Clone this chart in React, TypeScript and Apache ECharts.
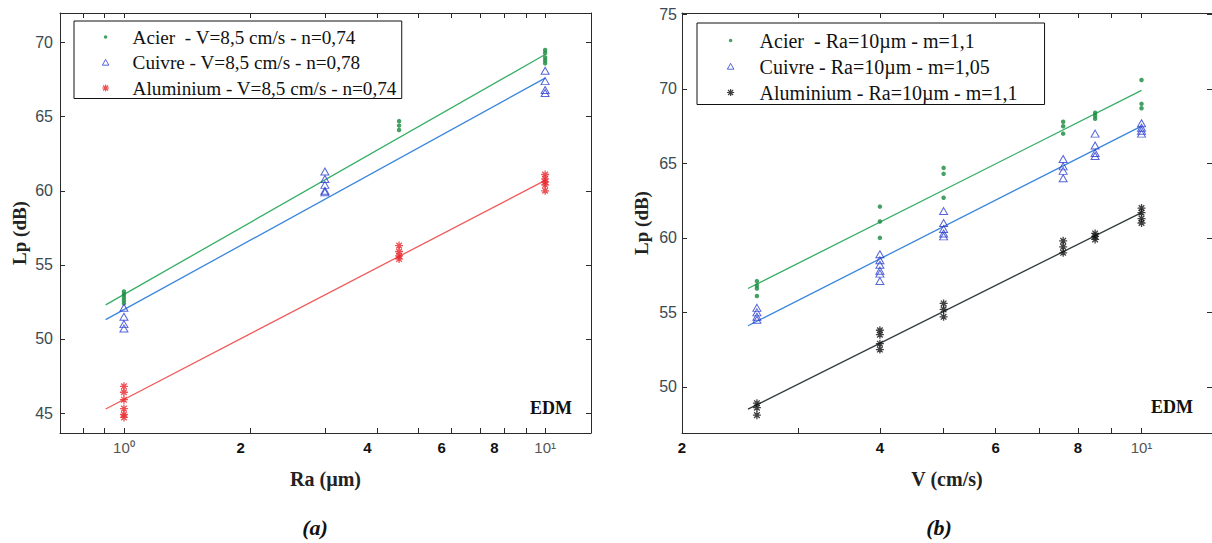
import React, { useEffect, useRef } from "react";
import * as echarts from "echarts";

// ---------- (a) Lp vs Ra, V = 8,5 cm/s ----------
const raTickValues = [0.8, 0.9, 1, 2, 3, 4, 5, 6, 7, 8, 9, 10];
const raLabelValues = [1, 2, 4, 6, 8, 10];
const lpTickValuesA = [45, 50, 55, 60, 65, 70];

const acierA: [number, number][] = [
  [1, 53.2], [1, 53.0], [1, 52.8], [1, 52.6], [1, 52.4],
  [4.5, 64.7], [4.5, 64.4], [4.5, 64.1],
  [10, 69.5], [10, 69.3], [10, 69.0], [10, 68.8], [10, 68.6],
];
const cuivreA: [number, number][] = [
  [1, 52.1], [1, 51.5], [1, 51.0], [1, 50.7],
  [3, 61.3], [3, 60.8], [3, 60.4], [3, 60.0], [3, 59.9],
  [10, 68.1], [10, 67.4], [10, 66.8], [10, 66.6],
];
const aluminiumA: [number, number][] = [
  [1, 46.8], [1, 46.4], [1, 45.9], [1, 45.3], [1, 44.9], [1, 44.7],
  [4.5, 56.3], [4.5, 55.9], [4.5, 55.6], [4.5, 55.4],
  [10, 61.1], [10, 60.8], [10, 60.6], [10, 60.4], [10, 60.0],
];
const acierFitA: [number, number][] = [[0.905, 52.3], [10, 69.2]];
const cuivreFitA: [number, number][] = [[0.905, 51.3], [10, 67.6]];
const aluminiumFitA: [number, number][] = [[0.905, 45.27], [10, 60.7]];
const legendNamesA = [
  "Acier  - V=8,5 cm/s - n=0,74",
  "Cuivre - V=8,5 cm/s - n=0,78",
  "Aluminium - V=8,5 cm/s - n=0,74",
];

// ---------- (b) Lp vs V, Ra = 10 µm ----------
const vTickValues = [2, 3, 4, 5, 6, 7, 8, 9, 10];
const vLabelValues = [2, 4, 6, 8, 10];
const lpTickValuesB = [50, 55, 60, 65, 70, 75];

const acierB: [number, number][] = [
  [2.6, 57.1], [2.6, 56.8], [2.6, 56.6], [2.6, 56.1],
  [4, 62.1], [4, 61.1], [4, 60.0],
  [5, 64.7], [5, 64.3], [5, 62.7],
  [7.6, 67.8], [7.6, 67.5], [7.6, 67.0],
  [8.5, 68.4], [8.5, 68.2], [8.5, 68.0],
  [10, 70.6], [10, 69.0], [10, 68.7],
];
const cuivreB: [number, number][] = [
  [2.6, 55.3], [2.6, 55.0], [2.6, 54.7], [2.6, 54.5],
  [4, 58.9], [4, 58.5], [4, 58.2], [4, 57.8], [4, 57.6], [4, 57.1],
  [5, 61.8], [5, 61.0], [5, 60.6], [5, 60.3], [5, 60.1],
  [7.6, 65.3], [7.6, 64.8], [7.6, 64.5], [7.6, 64.0],
  [8.5, 67.0], [8.5, 66.2], [8.5, 65.7], [8.5, 65.5],
  [10, 67.7], [10, 67.4], [10, 67.2], [10, 67.0],
];
const aluminiumB: [number, number][] = [
  [2.6, 48.9], [2.6, 48.6], [2.6, 48.1],
  [4, 53.8], [4, 53.5], [4, 52.9], [4, 52.5],
  [5, 55.6], [5, 55.2], [5, 54.7],
  [7.6, 59.8], [7.6, 59.4], [7.6, 59.0],
  [8.5, 60.3], [8.5, 60.1], [8.5, 59.9],
  [10, 62.0], [10, 61.7], [10, 61.3], [10, 61.0],
];
const acierFitB: [number, number][] = [[2.52, 56.6], [10, 69.9]];
const cuivreFitB: [number, number][] = [[2.52, 54.1], [10, 67.5]];
const aluminiumFitB: [number, number][] = [[2.52, 48.5], [10, 61.7]];
const legendNamesB = [
  "Acier  - Ra=10µm - m=1,1",
  "Cuivre - Ra=10µm - m=1,05",
  "Aluminium - Ra=10µm - m=1,1",
];

// ---------- styles ----------
const GREEN = "#178a3c";
const GREEN_LINE = "#35ad64";
const BLUE = "#2c3fd0";
const BLUE_LINE = "#3a86dc";
const RED = "#e8262b";
const RED_LINE = "#f05a5a";
const BLACK = "#111111";
const BLACK_LINE = "#2e3b3b";
const AXIS = "#2b2b2b";
const SERIF = "'Liberation Serif', 'Times New Roman', serif";
const SANS = "'Liberation Sans', Arial, sans-serif";

const STAR = "path://M0,-4 L0,4 M-4,0 L4,0 M-2.8,-2.8 L2.8,2.8 M-2.8,2.8 L2.8,-2.8";
const DOT_LEGEND = "path://M0,0 M10,10 M3,5 A2,2 0 1 1 7,5 A2,2 0 1 1 3,5 Z";
const TRI_LEGEND = "path://M0,0 M10,10 M5,1.5 L8.6,8 L1.4,8 Z";
const STAR_LEGEND = "path://M0,0 M10,10 M5,1 L5,9 M1,5 L9,5 M2.2,2.2 L7.8,7.8 M2.2,7.8 L7.8,2.2";

const near = (a: number, b: number) => Math.abs(a - b) < 1e-6;

function xAxisCfg(
  gridIndex: number,
  position: "top" | "bottom",
  min: number,
  max: number,
  ticks: number[],
  labels: number[] | null,
  boldPad: number,
  name?: string
) {
  return {
    type: "log",
    logBase: 10,
    gridIndex,
    position,
    min,
    max,
    name: name || "",
    nameLocation: "middle",
    nameGap: 36,
    nameTextStyle: { fontFamily: SERIF, fontWeight: "bold", fontSize: 20, color: "#222" },
    axisLine: { show: true, lineStyle: { color: AXIS, width: 1 } },
    axisTick: { show: true, inside: true, length: 5, customValues: ticks, lineStyle: { color: AXIS } },
    axisLabel: labels
      ? {
          show: true,
          customValues: labels,
          margin: 7,
          formatter: (v: number) => {
            if (near(v, 1)) return "{p|10⁰}";
            if (near(v, 10)) return "{p|10¹}";
            return `{b|${Math.round(v)}}`;
          },
          rich: {
            p: { fontFamily: SANS, fontSize: 15, color: "#555" },
            b: {
              fontFamily: SANS,
              fontWeight: "bold",
              fontSize: 15,
              color: "#111",
              padding: [0, boldPad, 0, 0],
            },
          },
        }
      : { show: false },
    splitLine: { show: false },
    minorTick: { show: false },
    minorSplitLine: { show: false },
  };
}

function yAxisCfg(
  gridIndex: number,
  position: "left" | "right",
  min: number,
  max: number,
  ticks: number[],
  showLabels: boolean,
  labelMargin: number,
  nameGap: number,
  namePad: number
) {
  return {
    type: "value",
    gridIndex,
    position,
    min,
    max,
    name: showLabels ? "Lp (dB)" : "",
    nameLocation: "middle",
    nameGap,
    nameTextStyle: {
      fontFamily: SERIF,
      fontWeight: "bold",
      fontSize: 19,
      color: "#222",
      padding: [0, namePad, 0, 0],
    },
    axisLine: { show: true, lineStyle: { color: AXIS, width: 1 } },
    axisTick: { show: true, inside: true, length: 5, customValues: ticks, lineStyle: { color: AXIS } },
    axisLabel: showLabels
      ? { show: true, customValues: ticks, margin: labelMargin, fontFamily: SANS, fontSize: 16, color: "#3c4a52" }
      : { show: false },
    splitLine: { show: false },
  };
}

function dotSeries(name: string, data: [number, number][], xi: number, yi: number) {
  return {
    type: "scatter",
    name,
    xAxisIndex: xi,
    yAxisIndex: yi,
    data,
    symbol: "circle",
    symbolSize: 4.5,
    itemStyle: { color: GREEN },
    z: 4,
  };
}
function triSeries(name: string, data: [number, number][], xi: number, yi: number) {
  return {
    type: "scatter",
    name,
    xAxisIndex: xi,
    yAxisIndex: yi,
    data,
    symbol: "triangle",
    symbolSize: [8, 7],
    itemStyle: { color: "rgba(255,255,255,0)", borderColor: BLUE, borderWidth: 1 },
    z: 4,
  };
}
function starSeries(name: string, data: [number, number][], xi: number, yi: number, color: string) {
  return {
    type: "scatter",
    name,
    xAxisIndex: xi,
    yAxisIndex: yi,
    data,
    symbol: STAR,
    symbolSize: 8,
    itemStyle: { color, borderColor: color, borderWidth: 1.3 },
    z: 4,
  };
}
function fitSeries(name: string, data: [number, number][], xi: number, yi: number, color: string) {
  return {
    type: "line",
    name,
    xAxisIndex: xi,
    yAxisIndex: yi,
    data,
    symbol: "none",
    showSymbol: false,
    silent: true,
    lineStyle: { color, width: 1.3 },
    z: 3,
  };
}

function legendCfg(
  names: string[],
  starColor: string,
  left: number,
  top: number,
  itemWidth: number,
  itemGap: number,
  fontSize: number,
  padding: number[]
) {
  return {
    show: true,
    orient: "vertical",
    left,
    top,
    itemWidth,
    itemHeight: 9,
    itemGap,
    padding,
    selectedMode: false,
    borderColor: "#111",
    borderWidth: 1,
    borderRadius: 0,
    backgroundColor: "#fff",
    textStyle: { fontFamily: SERIF, fontSize, color: "#111", lineHeight: Math.round(fontSize + 1) },
    data: [
      { name: names[0], icon: DOT_LEGEND, itemStyle: { color: GREEN, borderWidth: 0 } },
      {
        name: names[1],
        icon: TRI_LEGEND,
        itemStyle: { color: "rgba(255,255,255,0)", borderColor: BLUE, borderWidth: 1 },
      },
      {
        name: names[2],
        icon: STAR_LEGEND,
        itemStyle: { color: starColor, borderColor: starColor, borderWidth: 1.2 },
      },
    ],
  };
}

export default function App() {
  const ref = useRef<HTMLDivElement>(null);
  useEffect(() => {
    if (!ref.current) return;
    const chart = echarts.init(ref.current, undefined, { renderer: "svg" });
    const option: any = {
      animation: false,
      backgroundColor: "#ffffff",
      grid: [
        { left: 60, top: 13, width: 531, height: 420, containLabel: false },
        { left: 682, top: 13, width: 530, height: 420, containLabel: false },
      ],
      xAxis: [
        xAxisCfg(0, "bottom", 0.705, 12.85, raTickValues, raLabelValues, 20, "Ra (µm)"),
        xAxisCfg(0, "top", 0.705, 12.85, raTickValues, null, 0),
        xAxisCfg(1, "bottom", 2, 12.8, vTickValues, vLabelValues, 0, "V (cm/s)"),
        xAxisCfg(1, "top", 2, 12.8, vTickValues, null, 0),
      ],
      yAxis: [
        yAxisCfg(0, "left", 43.65, 72.0, lpTickValuesA, true, 7, 31, 20),
        yAxisCfg(0, "right", 43.65, 72.0, lpTickValuesA, false, 0, 0, 0),
        yAxisCfg(1, "left", 46.9, 75.1, lpTickValuesB, true, 5, 31, 0),
        yAxisCfg(1, "right", 46.9, 75.1, lpTickValuesB, false, 0, 0, 0),
      ],
      legend: [
        legendCfg(legendNamesA, RED, 74, 21, 44, 5.5, 19.2, [6, 5, 0.5, 26.5]),
        legendCfg(legendNamesB, BLACK, 697, 23, 48, 5, 20, [7, 27, 1.5, 28.5]),
      ],
      series: [
        fitSeries("fitA-acier", acierFitA, 0, 0, GREEN_LINE),
        fitSeries("fitA-cuivre", cuivreFitA, 0, 0, BLUE_LINE),
        fitSeries("fitA-aluminium", aluminiumFitA, 0, 0, RED_LINE),
        dotSeries(legendNamesA[0], acierA, 0, 0),
        triSeries(legendNamesA[1], cuivreA, 0, 0),
        starSeries(legendNamesA[2], aluminiumA, 0, 0, RED),
        fitSeries("fitB-acier", acierFitB, 2, 2, GREEN_LINE),
        fitSeries("fitB-cuivre", cuivreFitB, 2, 2, BLUE_LINE),
        fitSeries("fitB-aluminium", aluminiumFitB, 2, 2, BLACK_LINE),
        dotSeries(legendNamesB[0], acierB, 2, 2),
        triSeries(legendNamesB[1], cuivreB, 2, 2),
        starSeries(legendNamesB[2], aluminiumB, 2, 2, BLACK),
      ],
      graphic: [
        {
          type: "text",
          x: 551,
          y: 408,
          style: { text: "EDM", font: `bold 18px ${SERIF}`, fill: "#111", align: "center", verticalAlign: "middle" },
        },
        {
          type: "text",
          x: 1172,
          y: 407,
          style: { text: "EDM", font: `bold 18px ${SERIF}`, fill: "#111", align: "center", verticalAlign: "middle" },
        },
        {
          type: "text",
          x: 315,
          y: 527,
          style: { text: "(a)", font: `italic bold 22px ${SERIF}`, fill: "#111", align: "center", verticalAlign: "middle" },
        },
        {
          type: "text",
          x: 939,
          y: 527,
          style: { text: "(b)", font: `italic bold 22px ${SERIF}`, fill: "#111", align: "center", verticalAlign: "middle" },
        },
      ],
    };
    chart.setOption(option);
    return () => chart.dispose();
  }, []);
  return (
    <div
      ref={ref}
      style={{ position: "fixed", left: 0, top: 0, width: 1212, height: 543, background: "#fff" }}
    />
  );
}
